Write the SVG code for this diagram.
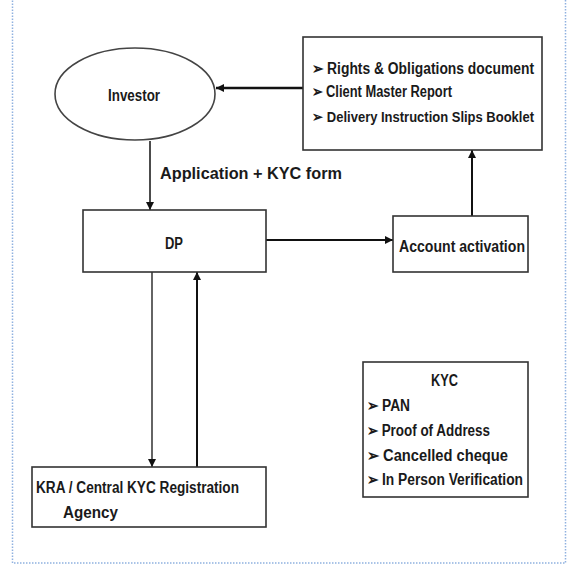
<svg xmlns="http://www.w3.org/2000/svg" width="571" height="568" viewBox="0 0 571 568">
<defs>
<marker id="ah" viewBox="0 0 10 10" refX="10" refY="5" markerWidth="8" markerHeight="8" markerUnits="userSpaceOnUse" orient="auto">
<path d="M0,0 L10,5 L0,10 z" fill="#111"/>
</marker>
<style>
.box{fill:#fff;stroke:#333;stroke-width:1.6}
.t{font-family:"Liberation Sans","Arial",sans-serif;font-weight:bold;font-size:16px;fill:#1a1a1a}
.s{font-size:15px}
.c{stroke:#111;fill:none}
</style>
</defs>
<rect x="0" y="0" width="571" height="568" fill="#fff"/>
<rect x="12.5" y="-5" width="553" height="568" fill="none" stroke="#8fb1e0" stroke-width="1.5" stroke-dasharray="1.5,1.5"/>
<g id="connectors">
<line class="c" x1="303" y1="88" x2="216" y2="88" stroke-width="2.5" marker-end="url(#ah)"/>
<line class="c" x1="150" y1="141" x2="150" y2="210" stroke-width="1.5" marker-end="url(#ah)"/>
<line class="c" x1="266" y1="240" x2="393" y2="240" stroke-width="2" marker-end="url(#ah)"/>
<line class="c" x1="472" y1="216" x2="472" y2="150" stroke-width="2" marker-end="url(#ah)"/>
<line class="c" x1="152" y1="272" x2="152" y2="467" stroke-width="1.3" marker-end="url(#ah)"/>
<line class="c" x1="197" y1="467" x2="197" y2="272" stroke-width="2" marker-end="url(#ah)"/>
<text class="t" x="160" y="179" textLength="182" lengthAdjust="spacingAndGlyphs">Application + KYC form</text>
</g>
<g id="investor">
<ellipse cx="135" cy="94" rx="80" ry="46" fill="#fff" stroke="#444" stroke-width="1.6"/>
<text class="t" x="108" y="101" textLength="52" lengthAdjust="spacingAndGlyphs">Investor</text>
</g>
<g id="documents">
<rect class="box" x="303" y="37" width="239" height="113"/>
<text class="t" x="312" y="74" textLength="222" lengthAdjust="spacingAndGlyphs">➢ Rights &amp; Obligations document</text>
<text class="t" x="312" y="97" textLength="140" lengthAdjust="spacingAndGlyphs">➢ Client Master Report</text>
<text class="t s" x="312" y="122" textLength="222" lengthAdjust="spacingAndGlyphs">➢ Delivery Instruction Slips Booklet</text>
</g>
<g id="dp">
<rect class="box" x="83" y="210" width="183" height="62"/>
<text class="t" x="165" y="249" textLength="18" lengthAdjust="spacingAndGlyphs">DP</text>
</g>
<g id="account">
<rect class="box" x="393" y="216" width="135" height="56"/>
<text class="t" x="399" y="252" textLength="126" lengthAdjust="spacingAndGlyphs">Account activation</text>
</g>
<g id="kra">
<rect class="box" x="32" y="467" width="234" height="60"/>
<text class="t" x="36" y="493" textLength="203" lengthAdjust="spacingAndGlyphs">KRA / Central KYC Registration</text>
<text class="t" x="63" y="518" textLength="55" lengthAdjust="spacingAndGlyphs">Agency</text>
</g>
<g id="kyc">
<rect class="box" x="363" y="362" width="165" height="135"/>
<text class="t" x="431" y="386" textLength="27" lengthAdjust="spacingAndGlyphs">KYC</text>
<text class="t" x="367" y="411" textLength="43" lengthAdjust="spacingAndGlyphs">➢ PAN</text>
<text class="t" x="367" y="436" textLength="123" lengthAdjust="spacingAndGlyphs">➢ Proof of Address</text>
<text class="t" x="367" y="461" textLength="141" lengthAdjust="spacingAndGlyphs">➢ Cancelled cheque</text>
<text class="t" x="367" y="485" textLength="156" lengthAdjust="spacingAndGlyphs">➢ In Person Verification</text>
</g>
</svg>
